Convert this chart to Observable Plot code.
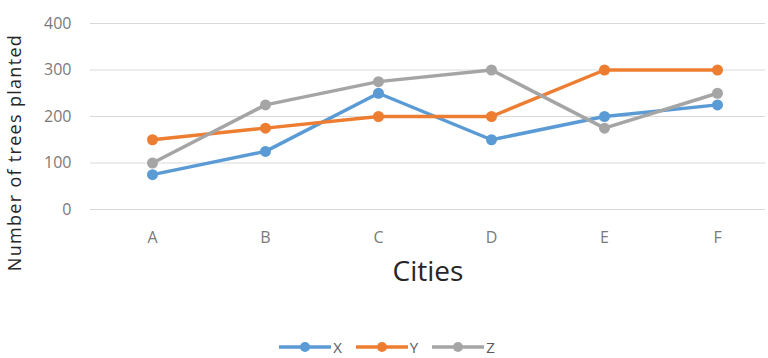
<!DOCTYPE html>
<html>
<head>
<meta charset="utf-8">
<script src="https://cdn.jsdelivr.net/npm/d3@7"></script>
<script src="https://cdn.jsdelivr.net/npm/@observablehq/plot@0.6"></script>
<style>
  body { margin: 0; background: #fff; font-family: "Open Sans", sans-serif; }
  #chart { width: 768px; height: 358px; position: relative; overflow: hidden; }
  #legend { display: flex; justify-content: center; align-items: center; height: 23px; gap: 14px; font-size: 15px; color: #595959; padding-left: 6px; }
  .item { display: flex; align-items: center; gap: 2px; }
</style>
</head>
<body>
<div id="chart"></div>
<script>
const cities = ["A", "B", "C", "D", "E", "F"];
const seriesNames = ["X", "Y", "Z"];
const xValues = [75, 125, 250, 150, 200, 225];
const yValues = [150, 175, 200, 200, 300, 300];
const zValues = [100, 225, 275, 300, 175, 250];
const yTicks = [0, 100, 200, 300, 400];
const colors = ["#5B9BD5", "#ED7D31", "#A5A5A5"];

const allValues = [xValues, yValues, zValues];
const data = [];
seriesNames.forEach((s, i) => cities.forEach((c, j) => data.push({series: s, city: c, value: allValues[i][j]})));

const yTitle = "Number of trees planted";
const plot = Plot.plot({
  width: 768,
  height: 335,
  marginLeft: 90,
  marginRight: 3,
  marginTop: 23,
  marginBottom: 126,
  style: { fontFamily: "Open Sans, sans-serif", background: "#fff" },
  x: { type: "point", domain: cities, range: [150.7, 718], padding: 0 },
  y: { domain: [0, 400], ticks: yTicks },
  color: { domain: seriesNames, range: colors },
  marks: [
    Plot.gridY(yTicks, { stroke: "#d9d9d9", strokeOpacity: 1, strokeWidth: 1.2 }),
    Plot.axisY(yTicks, { tickSize: 0, tickPadding: 19, fontSize: 16, fill: "#7a7a7a", label: null }),
    Plot.axisX({ tickSize: 0, tickPadding: 22, fontSize: 16, fill: "#7a7a7a", label: null }),
    Plot.line(data, { x: "city", y: "value", z: "series", stroke: "series", strokeWidth: 3.5 }),
    Plot.dot(data, { x: "city", y: "value", fill: "series", r: 5.5 }),
    Plot.text(["Cities"], { frameAnchor: "bottom", dy: 71, fontSize: 28, fill: "#262626" }),
    Plot.text([yTitle], { frameAnchor: "left", dx: -75, dy: 36, rotate: -90, fontSize: 18, fill: "#262626", textAnchor: "middle", lineAnchor: "middle" })
  ]
});
plot.setAttribute("style", (plot.getAttribute("style") || "") + ";overflow:visible;display:block");
d3.select(plot).selectAll("text").filter(function() { return this.textContent === yTitle; }).style("letter-spacing", "1.3px");
const chart = document.getElementById("chart");
chart.appendChild(plot);

const legend = document.createElement("div");
legend.id = "legend";
seriesNames.forEach((s, i) => {
  const item = document.createElement("div");
  item.className = "item";
  item.innerHTML = `<svg width="52" height="14"><line x1="0" y1="7" x2="52" y2="7" stroke="${colors[i]}" stroke-width="3.5"/><circle cx="26" cy="7" r="5" fill="${colors[i]}"/></svg><span>${s}</span>`;
  legend.appendChild(item);
});
chart.appendChild(legend);
</script>
</body>
</html>
